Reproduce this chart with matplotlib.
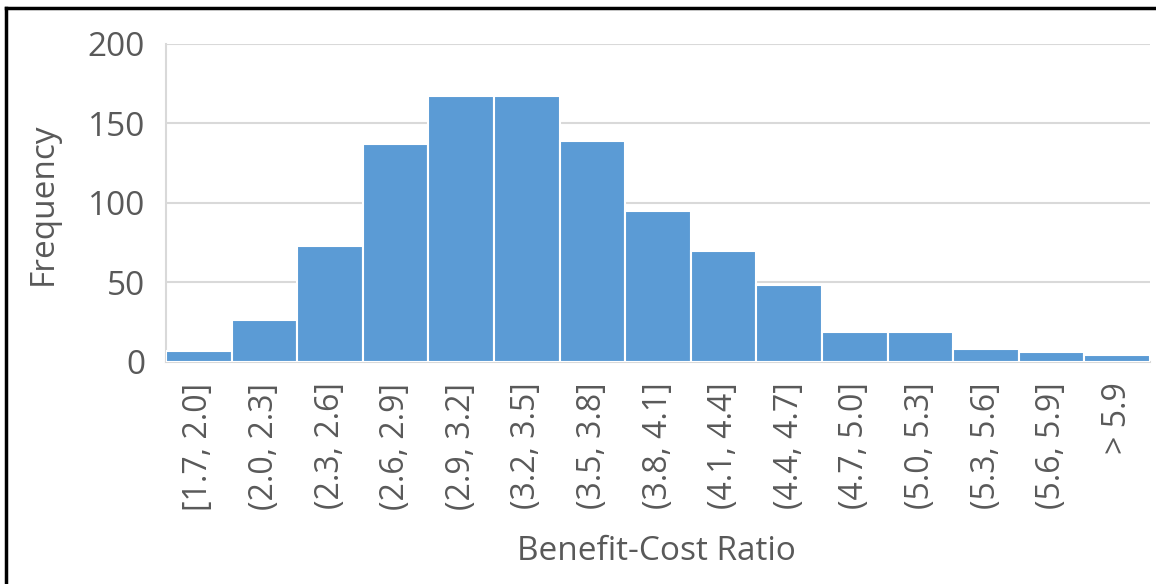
import matplotlib.pyplot as plt
from matplotlib.lines import Line2D

bins = ["[1.7, 2.0]", "(2.0, 2.3]", "(2.3, 2.6]", "(2.6, 2.9]", "(2.9, 3.2]",
        "(3.2, 3.5]", "(3.5, 3.8]", "(3.8, 4.1]", "(4.1, 4.4]", "(4.4, 4.7]",
        "(4.7, 5.0]", "(5.0, 5.3]", "(5.3, 5.6]", "(5.6, 5.9]", "> 5.9"]
freq = [7, 26, 73, 137, 167, 167, 139, 95, 70, 48, 19, 19, 8, 6, 4]
yticks = [0, 50, 100, 150, 200]

text_col = "#595959"
grid_col = "#D9D9D9"
bar_col = "#5B9BD5"

plt.rcParams['font.family'] = ['Open Sans', 'DejaVu Sans']

fig = plt.figure(figsize=(11.56, 5.84), dpi=100)
ax = fig.add_axes([166 / 1156, 1 - 361.7 / 584, 984 / 1156, 317.7 / 584])

x = list(range(len(freq)))
ax.bar(x, freq, width=1.0, color=bar_col, edgecolor="white", linewidth=1.5, zorder=3)

ax.set_xlim(-0.5, len(freq) - 0.5)
ax.set_ylim(0, 200)
ax.set_yticks(yticks)
ax.set_xticks(x)
ax.set_xticklabels(bins, rotation=90, va="top", ha="center")
ax.tick_params(axis="y", length=0, pad=15, labelsize=24, labelcolor=text_col)
ax.tick_params(axis="x", length=0, pad=15, labelsize=23, labelcolor=text_col)

ax.grid(axis="y", color=grid_col, linewidth=1.5, zorder=0)
for s in ["top", "right"]:
    ax.spines[s].set_visible(False)
ax.spines["left"].set_color(grid_col)
ax.spines["left"].set_linewidth(1.5)
ax.spines["bottom"].set_color(grid_col)
ax.spines["bottom"].set_linewidth(1.5)

fig.text(43 / 1156, 1 - 204 / 584, "Frequency", rotation=90, ha="center", va="center",
         fontsize=24, color=text_col)
fig.text(656 / 1156, 1 - 552 / 584, "Benefit-Cost Ratio", ha="center", va="center",
         fontsize=24, color=text_col)

# black frame on top and left edges
fig.add_artist(Line2D([5.5 / 1156, 1.0], [1 - 8 / 584, 1 - 8 / 584], color="black", linewidth=2.5,
                      transform=fig.transFigure))
fig.add_artist(Line2D([5.5 / 1156, 5.5 / 1156], [0, 1 - 8 / 584], color="black", linewidth=2.5,
                      transform=fig.transFigure))

fig.savefig("out.png", dpi=100)
